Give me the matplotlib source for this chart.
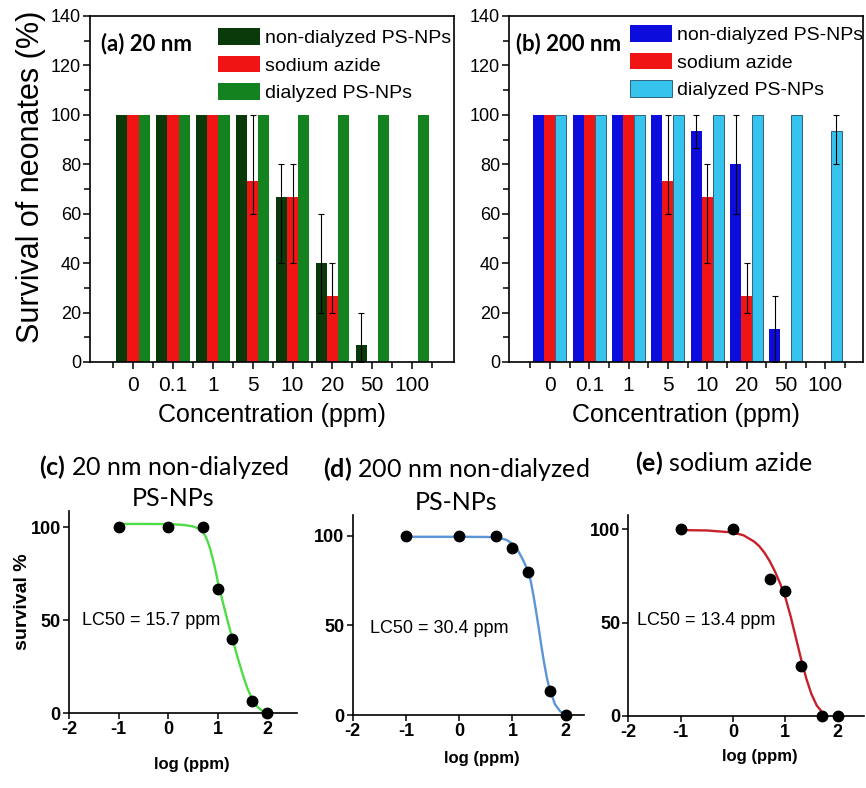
import numpy as np
import matplotlib
matplotlib.use("Agg")
import matplotlib.pyplot as plt
from matplotlib.ticker import MultipleLocator

# ---------------- data ----------------
conc_labels = ["0", "0.1", "1", "5", "10", "20", "50", "100"]

# (a) 20 nm
a_nondial = [100, 100, 100, 100, 66.7, 40, 6.7, 0]
a_nondial_lo = [0, 0, 0, 0, 26.7, 20, 6.7, 0]
a_nondial_hi = [0, 0, 0, 0, 13.3, 20, 13.3, 0]
a_azide = [100, 100, 100, 73.3, 66.7, 26.7, 0, 0]
a_azide_lo = [0, 0, 0, 13.3, 26.7, 6.7, 0, 0]
a_azide_hi = [0, 0, 0, 26.7, 13.3, 13.3, 0, 0]
a_dial = [100, 100, 100, 100, 100, 100, 100, 100]
a_dial_lo = [0, 0, 0, 0, 0, 0, 0, 0]
a_dial_hi = [0, 0, 0, 0, 0, 0, 0, 0]

# (b) 200 nm
b_nondial = [100, 100, 100, 100, 93.3, 80, 13.3, 0]
b_nondial_lo = [0, 0, 0, 0, 6.7, 20, 13.3, 0]
b_nondial_hi = [0, 0, 0, 0, 6.7, 20, 13.3, 0]
b_azide = [100, 100, 100, 73.3, 66.7, 26.7, 0, 0]
b_azide_lo = [0, 0, 0, 13.3, 26.7, 6.7, 0, 0]
b_azide_hi = [0, 0, 0, 26.7, 13.3, 13.3, 0, 0]
b_dial = [100, 100, 100, 100, 100, 100, 100, 93.3]
b_dial_lo = [0, 0, 0, 0, 0, 0, 0, 13.3]
b_dial_hi = [0, 0, 0, 0, 0, 0, 0, 6.7]

# (c)-(e) dose response
log_conc = [-1, 0, 0.699, 1, 1.301, 1.699, 2]
c_surv = [100, 100, 100, 66.7, 40, 6.7, 0]
d_surv = [100, 100, 100, 93.3, 80, 13.3, 0]
e_surv = [100, 100, 73.3, 66.7, 26.7, 0, 0]

# fitted curves
c_fit_x = [-1, -0.5, 0, 0.3, 0.5, 0.6, 0.7, 0.75, 0.8, 0.85, 0.9, 0.95, 1.0, 1.1, 1.2,
           1.3, 1.4, 1.5, 1.6, 1.7, 1.8, 1.9, 2.0]
c_fit_y = [101.8, 101.8, 101.7, 101.3, 100.5, 99.5, 97.5, 95.5, 92.5, 88.5, 83.5, 78, 71.5,
           60.5, 50, 40, 30.5, 21.5, 13.5, 7.5, 3.5, 1.2, 0]
d_fit_x = [-1, 0, 0.5, 0.6, 0.7, 0.8, 0.9, 1.0, 1.1, 1.2, 1.3, 1.35, 1.4, 1.45, 1.5, 1.55,
           1.6, 1.65, 1.7, 1.8, 1.9, 2.0]
d_fit_y = [99.4, 99.4, 99.3, 99.2, 99.0, 98.5, 97.5, 95.5, 92, 86.5, 80, 74, 66, 57, 47.5,
           37.5, 28.5, 20.5, 14.5, 6.0, 2.0, 0]
e_fit_x = [-1, -0.5, 0, 0.2, 0.4, 0.5, 0.6, 0.7, 0.8, 0.9, 1.0, 1.1, 1.2, 1.3, 1.4, 1.5,
           1.6, 1.7, 1.78]
e_fit_y = [99.6, 99.4, 98.3, 96.8, 93.5, 91, 87.5, 83, 77.5, 71, 63.5, 53.5, 42, 30.5, 20,
           11.5, 5.5, 2.0, 0]

# ---------------- style ----------------
plt.rcParams['font.family'] = ['Liberation Sans', 'DejaVu Sans']
plt.rcParams['axes.unicode_minus'] = False
plt.rcParams['mathtext.fontset'] = 'custom'
plt.rcParams['mathtext.rm'] = 'Lato'
plt.rcParams['mathtext.bf'] = 'Lato:bold'

W, H = 866, 788
fig = plt.figure(figsize=(W / 100, H / 100), dpi=100)


def box(l, t, r, b):
    return [l / W, 1 - b / H, (r - l) / W, (b - t) / H]


def fx(px):
    return px / W


def fy(py):
    return 1 - py / H


def bar_panel(ax, series, xlim, tag, tag_xy, leg_xy):
    x = np.arange(len(conc_labels))
    w = 0.28
    for k, (vals, lo, hi, label, col, ec, lw) in enumerate(series):
        off = (k - 1) * w
        vals = np.array(vals, dtype=float)
        ax.bar(x + off, vals, w, color=col, edgecolor=ec, linewidth=lw, label=label, zorder=2)
        lo = np.array(lo); hi = np.array(hi)
        idx = np.where((lo > 0) | (hi > 0))[0]
        if len(idx):
            ax.errorbar(x[idx] + off, vals[idx], yerr=[lo[idx], hi[idx]], fmt='none',
                        ecolor='black', elinewidth=0.8, capsize=2.5, capthick=0.8, zorder=3)
    ax.set_xlim(xlim)
    ax.set_ylim(0, 140)
    ax.yaxis.set_major_locator(MultipleLocator(20))
    ax.yaxis.set_minor_locator(MultipleLocator(10))
    ax.set_xticks(x)
    ax.set_xticks(np.arange(-0.5, len(conc_labels), 1.0), minor=True)
    ax.set_xticklabels(conc_labels)
    ax.tick_params(axis='both', which='both', direction='out', width=1.1)
    ax.tick_params(axis='both', which='major', length=5)
    ax.tick_params(axis='both', which='minor', length=4)
    ax.tick_params(axis='y', labelsize=13, pad=1.5)
    ax.tick_params(axis='x', labelsize=15, pad=5)
    for s in ax.spines.values():
        s.set_linewidth(1.2)
    ax.set_xlabel("Concentration (ppm)", fontsize=18, labelpad=6)
    fig.text(fx(tag_xy[0]), fy(tag_xy[1]), tag, family='Lato', fontweight='bold',
             fontsize=16, ha='left', va='center')
    ax.legend(loc='upper left', bbox_to_anchor=(fx(leg_xy[0]), fy(leg_xy[1])),
              bbox_transform=fig.transFigure, frameon=False, fontsize=14,
              handlelength=2.15, handleheight=0.95, handletextpad=0.25,
              labelspacing=0.44, borderpad=0, borderaxespad=0)


ax_a = fig.add_axes(box(90, 16, 454, 362))
bar_panel(ax_a, [
    (a_nondial, a_nondial_lo, a_nondial_hi, "non-dialyzed PS-NPs", '#0a3a0a', 'none', 0),
    (a_azide, a_azide_lo, a_azide_hi, "sodium azide", '#f01414', 'none', 0),
    (a_dial, a_dial_lo, a_dial_hi, "dialyzed PS-NPs", '#13821f', 'none', 0),
], (-1.08, 8.05), "(a) 20 nm", (101, 44), (218, 28))

ax_b = fig.add_axes(box(509, 16, 863, 362))
bar_panel(ax_b, [
    (b_nondial, b_nondial_lo, b_nondial_hi, "non-dialyzed PS-NPs", '#0c0cdc', 'none', 0),
    (b_azide, b_azide_lo, b_azide_hi, "sodium azide", '#f01414', 'none', 0),
    (b_dial, b_dial_lo, b_dial_hi, "dialyzed PS-NPs", '#36c3ee', '#1d4f6a', 0.6),
], (-1.04, 7.96), "(b) 200 nm", (516, 44), (630, 25))

fig.text(fx(31), fy(177), "Survival of neonates (%)", family='Liberation Sans',
         fontsize=22, rotation=90, ha='center', va='center')


def fit_panel(ax, surv, cx, cy, color, label, txt_xy, xlim, ylim):
    ax.plot(cx, cy, '-', color=color, lw=1.7, zorder=2)
    ax.plot(log_conc, surv, 'o', color='black', ms=7.5, zorder=3, clip_on=False)
    ax.set_xlim(xlim)
    ax.set_ylim(ylim)
    ax.spines[['top', 'right']].set_visible(False)
    for s in ('left', 'bottom'):
        ax.spines[s].set_linewidth(1.2)
    ax.set_xticks([-2, -1, 0, 1, 2])
    ax.set_yticks([0, 50, 100])
    ax.tick_params(direction='out', length=4, width=1.1, labelsize=13, pad=2)
    for lab in ax.get_xticklabels() + ax.get_yticklabels():
        lab.set_fontweight('bold')
    ax.text(txt_xy[0], txt_xy[1], label, fontsize=13, ha='left', va='center')


ax_c = fig.add_axes(box(69, 511.3, 296.7, 713))
fit_panel(ax_c, c_surv, c_fit_x, c_fit_y, '#4fdc46', "LC50 = 15.7 ppm", (-1.73, 49.7),
          (-2, 2.6), (0, 108.6))
ax_d = fig.add_axes(box(352.8, 515.1, 584.2, 715))
fit_panel(ax_d, d_surv, d_fit_x, d_fit_y, '#5a96d7', "LC50 = 30.4 ppm", (-1.67, 48),
          (-2, 2.35), (0, 111.5))
ax_e = fig.add_axes(box(628.4, 514.8, 863.8, 715.7))
fit_panel(ax_e, e_surv, e_fit_x, e_fit_y, '#c8202a', "LC50 = 13.4 ppm", (-1.83, 51),
          (-2, 2.5), (0, 107.8))

# panel titles
fig.text(fx(164), fy(467), r"$\mathbf{(c)}$ 20 nm non-dialyzed", family='Lato', fontsize=18,
         ha='center', va='center')
fig.text(fx(173), fy(499), "PS-NPs", family='Lato', fontsize=18, ha='center', va='center')
fig.text(fx(456), fy(469), r"$\mathbf{(d)}$ 200 nm non-dialyzed", family='Lato', fontsize=18,
         ha='center', va='center')
fig.text(fx(456), fy(502), "PS-NPs", family='Lato', fontsize=18, ha='center', va='center')
fig.text(fx(724), fy(463), r"$\mathbf{(e)}$ sodium azide", family='Lato', fontsize=18,
         ha='center', va='center')

# axis labels of the fit panels
fig.text(fx(23), fy(602), "survival %", fontweight='bold',
         fontsize=14, rotation=90, ha='center', va='center')
for cx_, cy_ in [(192, 765), (482, 758), (760, 757)]:
    fig.text(fx(cx_), fy(cy_), "log (ppm)", fontweight='bold', fontsize=12,
             ha='center', va='center')

fig.savefig("out.png", dpi=100)
